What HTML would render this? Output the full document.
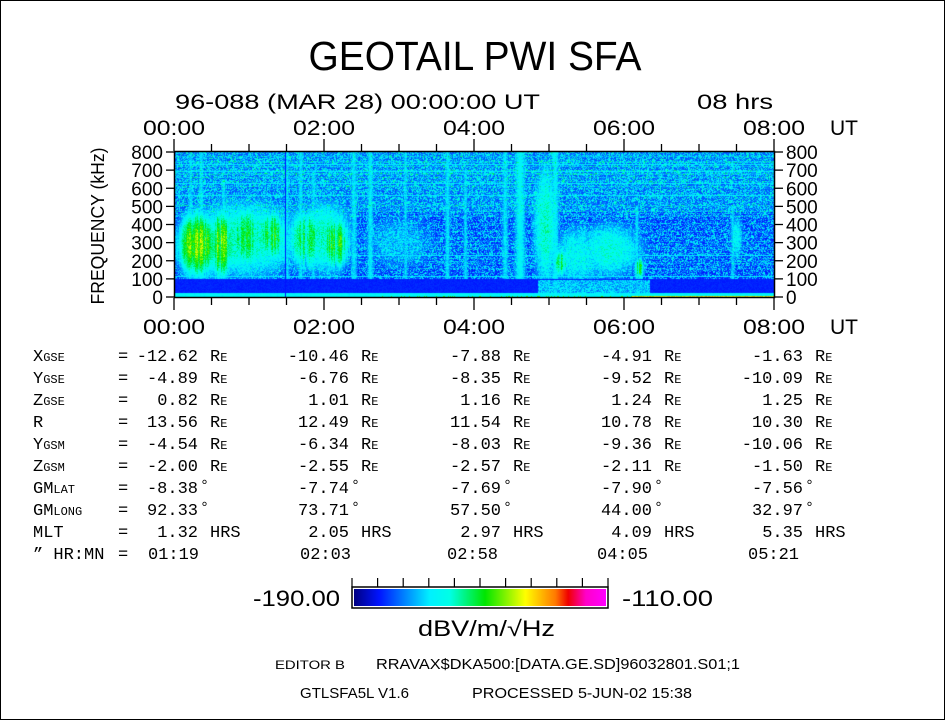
<!DOCTYPE html>
<html><head><meta charset="utf-8"><style>
html,body{margin:0;padding:0;background:#fff;}
#wrap{position:relative;width:945px;height:720px;overflow:hidden;}
svg{position:absolute;left:0;top:0;}
canvas{position:absolute;left:175px;top:152px;}
text{font-family:"Liberation Sans",sans-serif;fill:#000;}
.m{font-family:"Liberation Mono",monospace;}
</style></head><body>
<div id="wrap">
<canvas id="spec" width="599" height="145"></canvas>
<svg id="svg" width="945" height="720"></svg>
</div>
<script>
// ---- data ----
const hourTicks = ["00:00","02:00","04:00","06:00","08:00"];
const freqTicks = [0,100,200,300,400,500,600,700,800];
// emission bursts: time (h), center freq (kHz), time width (h), freq half-height (kHz), peak (dB)
const burstT = [0.3, 0.6, 0.95, 1.3, 1.75, 2.15, 0.9, 2.0, 4.95, 5.15, 5.8, 6.2, 7.5, 5.4, 3.0];
const burstF = [290, 290, 330, 340, 320, 300, 320, 330, 400, 190, 260, 160, 330, 230, 300];
const burstW = [0.3, 0.22, 0.3, 0.22, 0.28, 0.25, 1.0, 0.45, 0.2, 0.12, 0.55, 0.08, 0.1, 0.45, 0.6];
const burstH = [240, 250, 230, 190, 230, 200, 280, 270, 480, 110, 200, 80, 160, 220, 200];
const burstV = [-140, -141, -150, -147, -150, -146, -158, -158, -159, -150, -161, -148, -164, -163, -170];
// narrow vertical cyan columns: time (h), width (h), top freq (kHz), level (dB)
const colT = [0.21, 0.35, 0.65, 1.5, 1.68, 1.85, 2.39, 2.61, 3.08, 3.64, 3.88, 4.41, 4.61, 5.08, 6.17, 7.45];
const colW = [0.04, 0.05, 0.05, 0.04, 0.05, 0.05, 0.06, 0.06, 0.04, 0.05, 0.04, 0.06, 0.1, 0.07, 0.04, 0.04];
const colTop = [800, 800, 650, 800, 800, 700, 800, 800, 800, 800, 700, 800, 800, 800, 500, 500];
const colV = [-167, -166, -166, -166, -166, -167, -166, -165, -167, -166, -167, -166, -163, -164, -166, -167];
// horizontal interference lines (kHz)
const lineF = [730, 690, 625, 560, 230, 115];
// low band 25-100 kHz filled interval (h)
const lowFill = [4.85, 6.35];
const cbMin = -190, cbMax = -110;
// ephemeris table
const rowLabels = [["X","GSE"],["Y","GSE"],["Z","GSE"],["R",""],["Y","GSM"],["Z","GSM"],["GM","LAT"],["GM","LONG"],["MLT",""],["\u201d HR:MN",""]];
const rowUnits = ["RE","RE","RE","RE","RE","RE","°","°","HRS",""];
const xgse = ["-12.62","-10.46","-7.88","-4.91","-1.63"];
const ygse = ["-4.89","-6.76","-8.35","-9.52","-10.09"];
const zgse = ["0.82","1.01","1.16","1.24","1.25"];
const rr = ["13.56","12.49","11.54","10.78","10.30"];
const ygsm = ["-4.54","-6.34","-8.03","-9.36","-10.06"];
const zgsm = ["-2.00","-2.55","-2.57","-2.11","-1.50"];
const gmlat = ["-8.38","-7.74","-7.69","-7.90","-7.56"];
const gmlong = ["92.33","73.71","57.50","44.00","32.97"];
const mlt = ["1.32","2.05","2.97","4.09","5.35"];
const hrmn = ["01:19","02:03","02:58","04:05","05:21"];

// ---- scales ----
const X0=174, X1=774, Y0=297, Y1=152;
const xS = h => X0 + (X1-X0)*h/8;
const yS = f => Y0 - (Y0-Y1)*f/800;

// ---- colormap ----
const stops=[[0,[0,0,130]],[0.1,[0,20,255]],[0.3,[0,240,255]],[0.38,[0,255,230]],[0.52,[0,230,0]],[0.68,[255,255,0]],[0.8,[255,120,0]],[0.85,[240,0,0]],[0.92,[255,0,200]],[1,[255,0,255]]];
function cmap(v){let t=(v-cbMin)/(cbMax-cbMin);t=Math.max(0,Math.min(1,t));
 for(let i=1;i<stops.length;i++){if(t<=stops[i][0]){const a=stops[i-1],b=stops[i];const u=(t-a[0])/(b[0]-a[0]);return a[1].map((c,k)=>Math.round(c+(b[1][k]-c)*u));}}return stops[stops.length-1][1];}
function hash(x,y){let h=(x*374761393+y*668265263)|0;h=(h^(h>>>13))*1274126177|0;h=h^(h>>>16);return ((h>>>0)%10000)/10000;}

// ---- spectrogram ----
(function(){
 const cv=document.getElementById('spec');const ctx=cv.getContext('2d');
 const W=cv.width,H=cv.height;const img=ctx.createImageData(W,H);
 const colMod=[];for(let px=0;px<W;px++){colMod.push(0.5+0.35*hash(px,999)+0.25*hash(px>>1,555)+0.2*hash(px>>2,333));}
 for(let py=0;py<H;py++){
  const f=800*(1-(py+0.5)/H);
  const rowN=hash(py,4242);
  for(let px=0;px<W;px++){
   const t=8*(px+0.5)/W;const n=hash(px,py), n2=hash(py+7,px+3);
   let v=-182+n*n*22+(f>470?4:0)+(rowN>0.75?4:0);
   for(const lf of lineF){if(Math.abs(f-lf)<3)v=Math.max(v,-168+n*4);}
   for(let i=0;i<colT.length;i++){const dt=(t-colT[i])/colW[i];
    if(f<colTop[i]){const g=Math.exp(-dt*dt);v=Math.max(v,-190+(colV[i]+190)*g+n2*6-4);}}
   const cm=colMod[px];
   for(let i=0;i<burstT.length;i++){const dt=(t-burstT[i])/burstW[i],df=(f-burstF[i])/burstH[i];
    const d2=dt*dt+df*df*1.3;let g=Math.exp(-Math.pow(d2,1.4));
    if(burstV[i]>-155) g*=Math.min(1,cm); else g*=(0.85+0.15*cm);
    v=Math.max(v,-190+(burstV[i]+190)*g+(n2-0.5)*12*g);}
   if(f>=22&&f<=100){ if(t>=lowFill[0]&&t<=lowFill[1]&&f<95) v=Math.max(-176+n*14,-190+(v+190)*0.9); else v=-182+n*2; }
   if(f<22){v=-167+n*6; if(f<6&&t>6.1) v=-142+n2*14; if(f<5&&t>2.7&&t<6.1&&n2>0.8) v=-145;}
   if(Math.abs(t-1.48)<0.008) v=-182;
   const c=cmap(v);const k=(py*W+px)*4;img.data[k]=c[0];img.data[k+1]=c[1];img.data[k+2]=c[2];img.data[k+3]=255;
  }}
 ctx.putImageData(img,0,0);
})();

// ---- svg ----
const svg=document.getElementById('svg');const NS='http://www.w3.org/2000/svg';
function mk(tag,attrs,txt){const e=document.createElementNS(NS,tag);for(const k in attrs)e.setAttribute(k,attrs[k]);if(txt!==undefined)e.textContent=txt;svg.appendChild(e);return e;}
let e;
e=mk('rect',{x:0.5,y:0.5,width:944,height:719,fill:'none',stroke:'#000','stroke-width':1});


e=mk('text',{x:475,y:70,'font-size':41,'text-anchor':'middle',textLength:333,lengthAdjust:'spacingAndGlyphs'},'GEOTAIL PWI SFA');


e=mk('text',{x:175,y:109,'font-size':21,textLength:365,lengthAdjust:'spacingAndGlyphs'},'96-088 (MAR 28) 00:00:00 UT');


e=mk('text',{x:697,y:109,'font-size':21,textLength:76,lengthAdjust:'spacingAndGlyphs'},'08 hrs');


e=mk('rect',{x:174.5,y:151.5,width:600,height:146,fill:'none',stroke:'#000','stroke-width':1.5});


for(let q=0;q<=16;q++){const h=q*0.5,x=xS(h),maj=(q%4===0);
 e=mk('line',{x1:x,x2:x,y1:maj?139:144,y2:151,stroke:'#000','stroke-width':1.3});
 
 
 e=mk('line',{x1:x,x2:x,y1:298,y2:maj?310:305,stroke:'#000','stroke-width':1.3});
 
 }
hourTicks.forEach((lab,i)=>{const x=xS(i*2);
 e=mk('text',{x:x,y:135,'font-size':21,'text-anchor':'middle',textLength:62,lengthAdjust:'spacingAndGlyphs'},lab);
 
 
 e=mk('text',{x:x,y:334,'font-size':21,'text-anchor':'middle',textLength:62,lengthAdjust:'spacingAndGlyphs'},lab);
 
 });
e=mk('text',{x:830,y:135,'font-size':21},'UT');


e=mk('text',{x:830,y:334,'font-size':21},'UT');


freqTicks.forEach(f=>{const y=yS(f);
 e=mk('line',{x1:166,x2:174,y1:y,y2:y,stroke:'#000','stroke-width':1.3});
 
 
 e=mk('line',{x1:775,x2:783,y1:y,y2:y,stroke:'#000','stroke-width':1.3});
 
 
 e=mk('text',{x:163,y:y+7,'font-size':19,'text-anchor':'end'},String(f));
 
 
 e=mk('text',{x:786,y:y+7,'font-size':19},String(f));
 
 });
e=mk('text',{x:104,y:226,'font-size':18,'text-anchor':'middle',transform:'rotate(-90 104 226)',textLength:157,lengthAdjust:'spacingAndGlyphs'},'FREQUENCY (kHz)');


const cols=[xgse,ygse,zgse,rr,ygsm,zgsm,gmlat,gmlong,mlt];
const rightEdge=[198,349,501,652,803];
const hmStart=[148,300,447,597,748];
rowLabels.forEach((lab,r)=>{const y=361+r*22;
 const t=mk('text',{x:33,y:y,'font-size':17,class:'m'});
 
 
 const a=document.createElementNS(NS,'tspan');a.textContent=lab[0];t.appendChild(a);
 if(lab[1]){const b=document.createElementNS(NS,'tspan');b.setAttribute('font-size','12');b.textContent=lab[1];t.appendChild(b);}
 e=mk('text',{x:118,y:y,'font-size':17,class:'m'},'=');
 
 
 for(let c=0;c<5;c++){
  if(r<9){e=mk('text',{x:rightEdge[c],y:y,'font-size':17,class:'m','text-anchor':'end'},cols[r][c]);
   
   
   const u=rowUnits[r];
   if(u==='RE'){const ut=mk('text',{x:rightEdge[c]+12,y:y,'font-size':17,class:'m'});
    
    
    const a1=document.createElementNS(NS,'tspan');a1.textContent='R';ut.appendChild(a1);
    const a2=document.createElementNS(NS,'tspan');a2.setAttribute('font-size','12');a2.textContent='E';ut.appendChild(a2);}
   else if(u==='°'){e=mk('text',{x:rightEdge[c]+2,y:y-3,'font-size':15,class:'m'},'°');
    
    }
   else {e=mk('text',{x:rightEdge[c]+12,y:y,'font-size':17,class:'m'},u);
    
    }
  } else {e=mk('text',{x:hmStart[c],y:y,'font-size':17,class:'m'},hrmn[c]);
   
   }
 }});
const defs=mk('defs',{});const lg=document.createElementNS(NS,'linearGradient');lg.setAttribute('id','cb');defs.appendChild(lg);
stops.forEach(s=>{const st=document.createElementNS(NS,'stop');st.setAttribute('offset',s[0]);st.setAttribute('stop-color','rgb('+s[1].join(',')+')');lg.appendChild(st);});
e=mk('rect',{x:352,y:587,width:256,height:21,fill:'#fff',stroke:'#000','stroke-width':1.5});


e=mk('rect',{x:354,y:589,width:252,height:17,fill:'url(#cb)'});


for(let i=0;i<=10;i++){const x=352+256*i/10;
 e=mk('line',{x1:x,x2:x,y1:578,y2:587,stroke:'#000','stroke-width':1.2});
 
 }
e=mk('text',{x:340,y:606,'font-size':22,'text-anchor':'end',textLength:87,lengthAdjust:'spacingAndGlyphs'},cbMin.toFixed(2));


e=mk('text',{x:622,y:606,'font-size':22,textLength:91,lengthAdjust:'spacingAndGlyphs'},cbMax.toFixed(2));


e=mk('text',{x:418,y:636,'font-size':22,textLength:137,lengthAdjust:'spacingAndGlyphs'},'dBV/m/\u221AHz');


e=mk('text',{x:275,y:669,'font-size':12,textLength:70,lengthAdjust:'spacingAndGlyphs'},'EDITOR B');


e=mk('text',{x:376,y:669,'font-size':15,textLength:364,lengthAdjust:'spacingAndGlyphs'},'RRAVAX$DKA500:[DATA.GE.SD]96032801.S01;1');


e=mk('text',{x:300,y:698,'font-size':15,textLength:109,lengthAdjust:'spacingAndGlyphs'},'GTLSFA5L V1.6');


e=mk('text',{x:472,y:698,'font-size':15,textLength:220,lengthAdjust:'spacingAndGlyphs'},'PROCESSED  5-JUN-02  15:38');


</script>
</body></html>
